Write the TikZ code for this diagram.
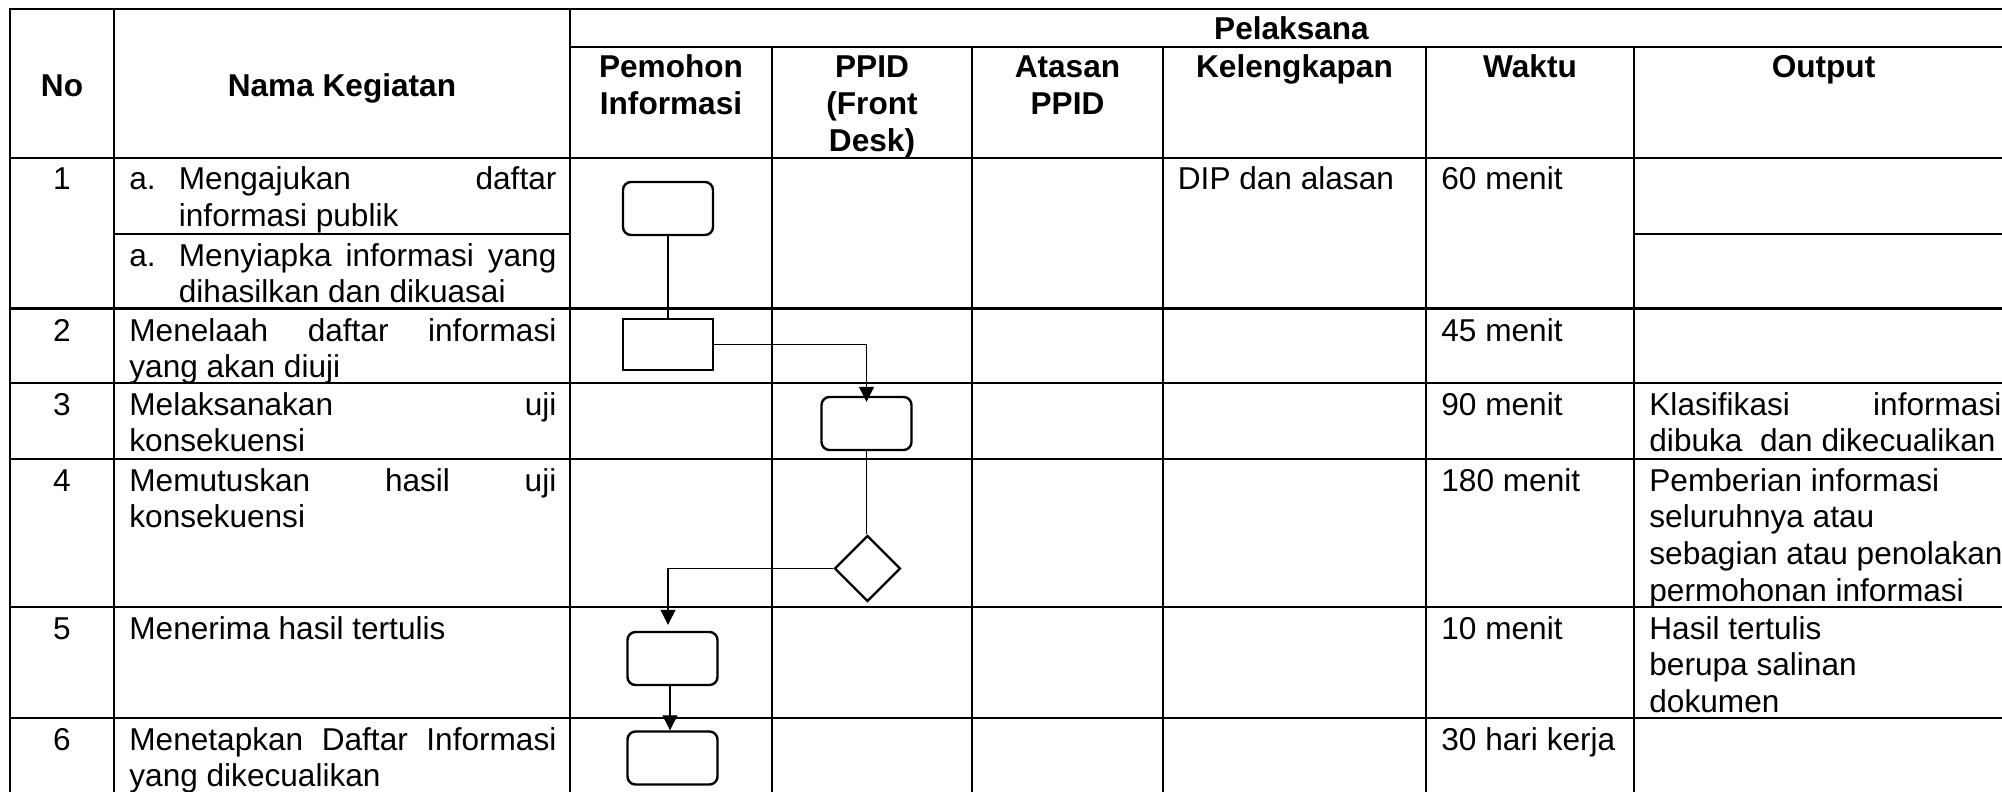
\documentclass[tikz,border=0pt]{standalone}
\usepackage{fontspec}
\setmainfont{Liberation Sans}
\usetikzlibrary{arrows.meta,shapes.geometric}
\newcommand{\bodyfont}{\fontsize{15.8pt}{18.4pt}\selectfont}
\newcommand{\cellbox}[2]{\parbox[t]{#1}{\bodyfont\raggedright #2}}
\newcommand{\hdrbox}[2]{\parbox[t]{#1}{\bodyfont\bfseries\centering #2}}
\newcommand{\jline}[1]{\makebox[\linewidth][s]{#1}}
\tikzset{
  grid/.style={line width=1.3pt, black, line cap=rect},
  rbox/.style={draw, line width=1.2pt, rounded corners=4pt, minimum width=45pt, minimum height=26.5pt, inner sep=0pt},
  sbox/.style={draw, line width=1.2pt, minimum width=45pt, minimum height=25.5pt, inner sep=0pt},
  dia/.style={draw, diamond, aspect=1, line width=1.2pt, minimum width=33pt, minimum height=33pt, inner sep=0pt},
  conn/.style={line width=0.6pt, black},
  arr/.style={-{Triangle[length=7.5pt,width=7.5pt]}},
  txt/.style={anchor=base west, inner sep=0pt, font=\bodyfont},
  num/.style={anchor=base, inner sep=0pt, font=\bodyfont},
  hdr/.style={anchor=base, inner sep=0pt, font=\bodyfont\bfseries}
}
\begin{document}
\begin{tikzpicture}[x=0.5pt,y=-0.5pt]
\useasboundingbox (0,0) rectangle (2002,792);
\fill[white] (0,0) rectangle (2002,792);
\clip (0,0) rectangle (2002,792);
% horizontal grid lines
\draw[grid] (10,9) -- (2013,9);
\draw[grid] (570,47) -- (2013,47);
\draw[grid] (10,158) -- (2013,158);
\draw[grid] (114,234) -- (570,234);
\draw[grid] (1634,234) -- (2013,234);
\foreach \yy in {308.5,383,459,607,718} \draw[grid] (10,\yy) -- (2013,\yy);
% vertical grid lines
\foreach \xx in {10,114,570,2013} \draw[grid] (\xx,9) -- (\xx,800);
\foreach \xx in {772,972,1163,1426,1634} \draw[grid] (\xx,47) -- (\xx,800);
% headers
\node[hdr] (hno) at (62,96.7) {No};
\node[hdr] (hnama) at (342,96.7) {Nama Kegiatan};
\node[hdr] (hpel) at (1291.5,40) {Pelaksana};
\node[hdr] (hpem) at (671,78) {\hdrbox{95pt}{Pemohon\\Informasi}};
\node[hdr] (hppid) at (872,78) {\hdrbox{95pt}{PPID\\(Front\\Desk)}};
\node[hdr] (hatas) at (1067.5,78) {\hdrbox{90pt}{Atasan\\PPID}};
\node[hdr] (hkel) at (1294.5,78) {Kelengkapan};
\node[hdr] (hwak) at (1530,78) {Waktu};
\node[hdr] (hout) at (1823.5,78) {Output};
% numbers
\node[num] (n1) at (62,190) {1};
\node[num] (n2) at (62,341) {2};
\node[num] (n3) at (62,415) {3};
\node[num] (n4) at (62,491) {4};
\node[num] (n5) at (62,639) {5};
\node[num] (n6) at (62,750) {6};
% activities
\node[txt] (la1) at (129,190) {a.};
\node[txt] (ta1) at (178.5,190) {\cellbox{188.75pt}{\jline{Mengajukan daftar}\\informasi publik}};
\node[txt] (la2) at (129,266) {a.};
\node[txt] (ta2) at (178.5,266) {\cellbox{188.75pt}{\jline{Menyiapka informasi yang}\\dihasilkan dan dikuasai}};
\node[txt] (t2) at (129,341) {\cellbox{213.5pt}{\jline{Menelaah daftar informasi}\\yang akan diuji}};
\node[txt] (t3) at (129,415) {\cellbox{213.5pt}{\jline{Melaksanakan uji}\\konsekuensi}};
\node[txt] (t4) at (129,491) {\cellbox{213.5pt}{\jline{Memutuskan hasil uji}\\konsekuensi}};
\node[txt] (t5) at (129,639) {Menerima hasil tertulis};
\node[txt] (t6) at (129,750) {\cellbox{213.5pt}{\jline{Menetapkan Daftar Informasi}\\yang dikecualikan}};
% kelengkapan
\node[txt] (k1) at (1177.5,190) {DIP dan alasan};
% waktu
\node[txt] (w1) at (1441,190) {60 menit};
\node[txt] (w2) at (1441,341) {45 menit};
\node[txt] (w3) at (1441,415) {90 menit};
\node[txt] (w4) at (1441,491) {180 menit};
\node[txt] (w5) at (1441,639) {10 menit};
\node[txt] (w6) at (1441,750) {30 hari kerja};
% output
\node[txt] (o3) at (1649,415) {\cellbox{176pt}{\jline{Klasifikasi informasi}\\dibuka\ \ dan dikecualikan}};
\node[txt] (o4) at (1649,491) {\cellbox{190pt}{Pemberian informasi\\seluruhnya atau\\sebagian atau penolakan\\permohonan informasi}};
\node[txt] (o5) at (1649,639) {\cellbox{176pt}{Hasil tertulis\\berupa salinan\\dokumen}};
% flow shapes
\node[rbox] (b1) at (668,208.5) {};
\node[sbox] (b2) at (668,344.5) {};
\node[rbox] (b3) at (866.5,423.5) {};
\node[dia] (d1) at (867.5,568.5) {};
\node[rbox] (b4) at (672.5,658.5) {};
\node[rbox] (b5) at (672.5,758) {};
% connectors
\draw[conn] (b1) -- (b2);
\draw[conn,arr,shorten >=-3pt] (b2.east) -| (b3.north);
\draw[conn] (b3.south) -- (b3.south |- d1.north);
\draw[conn,arr,shorten >=3pt] (d1.west) -| ([xshift=-2.25pt]b4.north);
\draw[conn,arr] ([xshift=-1.25pt]b4.south) -- ([xshift=-1.25pt]b5.north);
\end{tikzpicture}
\end{document}
